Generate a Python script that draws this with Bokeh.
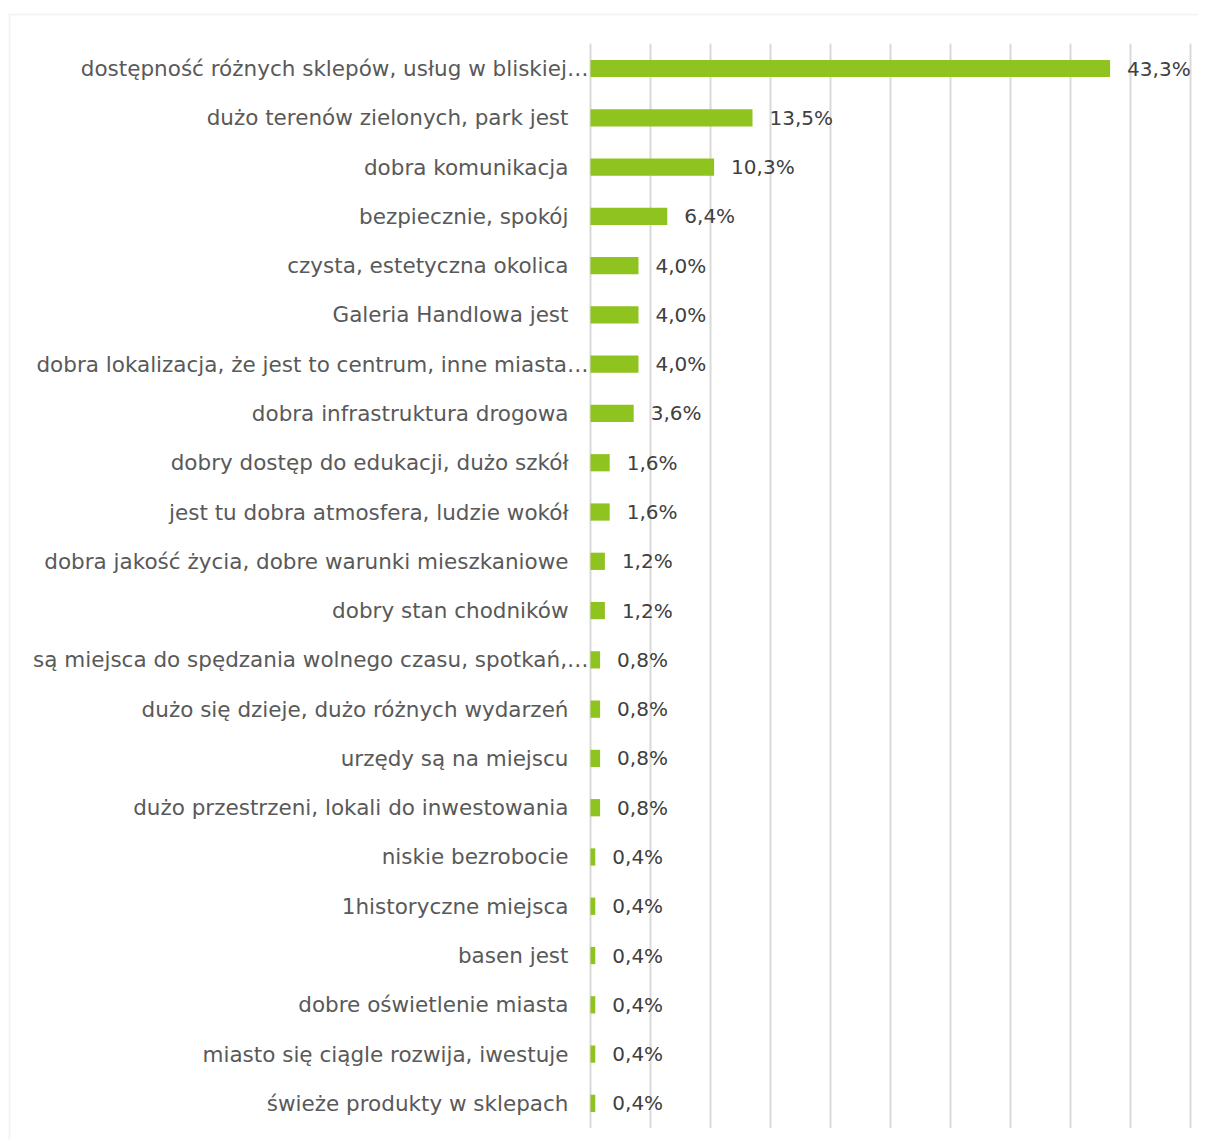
from bokeh.plotting import figure
from bokeh.models import ColumnDataSource, Range1d, LabelSet, BoxAnnotation
from bokeh.core.properties import value
from bokeh.embed import file_html
from bokeh.resources import INLINE

categories = [
    "dostępność różnych sklepów, usług w bliskiej…",
    "dużo terenów zielonych, park jest",
    "dobra komunikacja",
    "bezpiecznie, spokój",
    "czysta, estetyczna okolica",
    "Galeria Handlowa jest",
    "dobra lokalizacja, że jest to centrum, inne miasta…",
    "dobra infrastruktura drogowa",
    "dobry dostęp do edukacji, dużo szkół",
    "jest tu dobra atmosfera, ludzie wokół",
    "dobra jakość życia, dobre warunki mieszkaniowe",
    "dobry stan chodników",
    "są miejsca do spędzania wolnego czasu, spotkań,…",
    "dużo się dzieje, dużo różnych wydarzeń",
    "urzędy są na miejscu",
    "dużo przestrzeni, lokali do inwestowania",
    "niskie bezrobocie",
    "1historyczne miejsca",
    "basen jest",
    "dobre oświetlenie miasta",
    "miasto się ciągle rozwija, iwestuje",
    "świeże produkty w sklepach",
]
values = [43.3, 13.5, 10.3, 6.4, 4.0, 4.0, 4.0, 3.6, 1.6, 1.6, 1.2, 1.2,
          0.8, 0.8, 0.8, 0.8, 0.4, 0.4, 0.4, 0.4, 0.4, 0.4]
x_ticks = [0, 5, 10, 15, 20, 25, 30, 35, 40, 45, 50]

FONT = "DejaVu Sans"

# ---- layout (pixels) ----
W, H = 1198, 1140
ZERO_PX = 590          # x pixel of 0 %
PX_PER_UNIT = 12.0     # pixels per 1 %
ROW = 49.28            # pixels per category row
TOP_CENTER = 68        # pixel y of first row centre
BORDER_X, BORDER_Y = 9, 14

n = len(categories)
x_start = -ZERO_PX / PX_PER_UNIT
x_end = (W - ZERO_PX) / PX_PER_UNIT
y_end = (n - 1) + TOP_CENTER / ROW
y_start = y_end - H / ROW

ypos = [n - 1 - i for i in range(n)]
value_labels = [("%.1f" % v).replace(".", ",") + "%" for v in values]
cat_offsets = [-2 if c.endswith("…") else -22 for c in categories]

src = ColumnDataSource(dict(
    cat=categories, val=values, vlab=value_labels, y=ypos,
    zero=[0] * n, coff=cat_offsets,
))

p = figure(
    width=W, height=H,
    x_range=Range1d(x_start, x_end), y_range=Range1d(y_start, y_end),
    output_backend="svg", toolbar_location=None,
    min_border=0,
)
p.outline_line_color = None
p.xaxis.visible = False
p.yaxis.visible = False
p.grid.visible = False

# vertical gridlines spanning the category area only
p.segment(x0=x_ticks, x1=x_ticks, y0=[-0.5] * len(x_ticks), y1=[n - 0.5] * len(x_ticks),
          line_color="#d9d9d9", line_width=2)

p.hbar(y="y", right="val", left=0, height=0.35, source=src,
       fill_color="#8fc31f", line_color=None)

p.add_layout(LabelSet(x="zero", y="y", text="cat", source=src,
                      x_offset="coff", text_align="right", text_baseline="middle",
                      text_font=value(FONT), text_font_size="21.5px", text_color="#595959"))
p.add_layout(LabelSet(x="val", y="y", text="vlab", source=src,
                      x_offset=17, text_align="left", text_baseline="middle",
                      text_font=value(FONT), text_font_size="20px", text_color="#404040"))

# chart-area border (left and top edges visible)
p.add_layout(BoxAnnotation(left=x_start + BORDER_X / PX_PER_UNIT,
                           top=y_end - BORDER_Y / ROW,
                           right=x_end + 5, bottom=y_start - 5,
                           fill_alpha=0, line_color="#d9d9d9", line_width=2))

open("out.html", "w").write(file_html(p, INLINE))
